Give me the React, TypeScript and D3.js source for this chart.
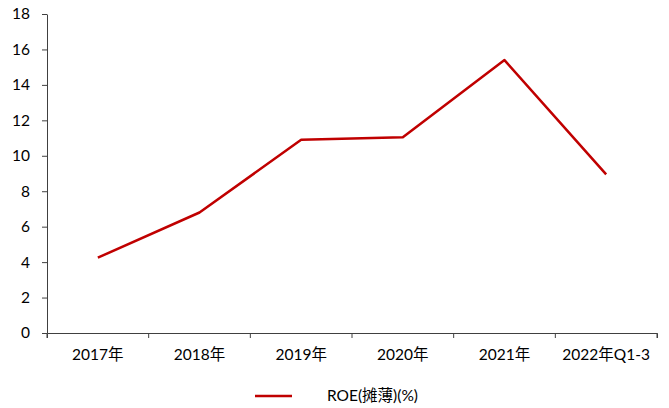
import { useEffect, useRef } from "react";
import * as d3 from "d3";

const width = 669;
const height = 408;
const marginTop = 14;
const marginLeft = 47;
const marginRight = 12;
const chartBottomY = 333;

// 数据
const categories = ["2017年", "2018年", "2019年", "2020年", "2021年", "2022年Q1-3"];
const roeValues = [4.25, 6.8, 10.9, 11.05, 15.4, 8.95];
const yTicks = [0, 2, 4, 6, 8, 10, 12, 14, 16, 18];
const seriesName = "ROE(摊薄)(%)";

const fontFamily = "Lato, 'Noto Sans CJK SC', sans-serif";
const axisColor = "#404040";
const lineColor = "#C00000";

const App = () => {
  const xRef = useRef<SVGGElement>(null);
  const yRef = useRef<SVGGElement>(null);

  const xScale = d3
    .scaleBand<string>()
    .domain(categories)
    .range([marginLeft, width - marginRight]);

  const yScale = d3.scaleLinear().domain([0, 18]).range([chartBottomY, marginTop]);

  const line = d3
    .line<number>()
    .x((_, i) => (xScale(categories[i]) ?? 0) + xScale.bandwidth() / 2)
    .y((d) => yScale(d));

  useEffect(() => {
    const xAxis = d3.axisBottom(xScale).tickSizeOuter(0).tickSize(5);
    const gx = d3.select(xRef.current!);
    gx.call(xAxis);
    // 刻度画在分类之间
    gx.selectAll<SVGLineElement, string>(".tick line")
      .attr("x1", -xScale.bandwidth() / 2)
      .attr("x2", -xScale.bandwidth() / 2);
    gx.append("line")
      .attr("x1", width - marginRight)
      .attr("x2", width - marginRight)
      .attr("y2", 5)
      .attr("stroke", axisColor);
    gx.select(".domain").attr("stroke", axisColor);
    gx.selectAll(".tick line").attr("stroke", axisColor);
    gx.selectAll("text")
      .attr("font-size", "15.5px")
      .attr("font-family", fontFamily)
      .attr("fill", "#000")
      .attr("dy", "1.25em");

    const yAxis = d3.axisLeft(yScale).tickValues(yTicks).tickSize(5).tickSizeOuter(0);
    const gy = d3.select(yRef.current!);
    gy.call(yAxis);
    gy.select(".domain").attr("stroke", axisColor);
    gy.selectAll(".tick line").attr("stroke", axisColor);
    gy.selectAll("text")
      .attr("font-size", "15.5px")
      .attr("font-family", fontFamily)
      .attr("fill", "#000")
      .attr("x", -17);
  }, []);

  return (
    <div style={{ position: "absolute", left: 0, top: 0 }}>
      <svg width={width} height={height} viewBox={`0 0 ${width} ${height}`}>
        <rect width={width} height={height} fill="#fff" />
        <g ref={xRef} transform={`translate(0,${chartBottomY})`}></g>
        <g ref={yRef} transform={`translate(${marginLeft},0)`}></g>
        <path
          d={line(roeValues) ?? ""}
          fill="none"
          stroke={lineColor}
          strokeWidth={2.5}
          strokeLinejoin="round"
        />
        <g className="legend">
          <line x1={255} x2={292} y1={396} y2={396} stroke={lineColor} strokeWidth={2.5} />
          <text x={327} y={401} fontSize={15.5} fontFamily={fontFamily} fill="#000">
            {seriesName}
          </text>
        </g>
      </svg>
    </div>
  );
};

export default App;
